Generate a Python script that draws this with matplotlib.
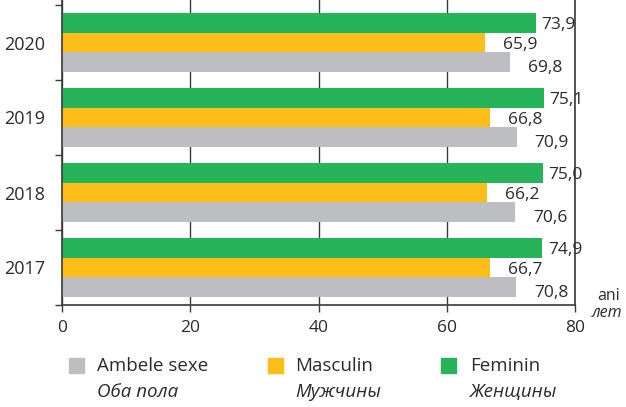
import numpy as np
import matplotlib.pyplot as plt
from matplotlib.patches import Rectangle

plt.rcParams['font.family'] = ['Open Sans', 'DejaVu Sans']

# 数据
years = ['2017', '2018', '2019', '2020']
ambele = [70.8, 70.6, 70.9, 69.8]
masculin = [66.7, 66.2, 66.8, 65.9]
feminin = [74.9, 75.0, 75.1, 73.9]

c_gray = '#bdbec2'
c_orange = '#fdbe1a'
c_green = '#27b35a'
c_axis = '#3a3a3a'
c_text = '#2b2b2b'

fig = plt.figure(figsize=(6.26, 4.07), dpi=100)
ax = fig.add_axes([62 / 626, 1 - 305 / 407, 513 / 626, 305 / 407])

y = np.arange(len(years))
h = 0.265
series = [(ambele, c_gray, -h, 13, -4), (masculin, c_orange, 0, 13, -2), (feminin, c_green, h, 4, -2)]
for vals, col, off, dx, dy in series:
    ax.barh(y + off, vals, height=h, color=col, zorder=2)
    for yi, v in zip(y, vals):
        ax.annotate(f'{v:.1f}'.replace('.', ','), (v, yi + off), xytext=(dx, dy),
                    textcoords='offset points', ha='left', va='center',
                    fontsize=12.5, color=c_text)

ax.set_xlim(0, 80)
ax.set_ylim(-0.5, 3.5 + 5 / 75)
ax.set_xticks([0, 20, 40, 60, 80])
ax.tick_params(axis='x', length=5, width=1, color=c_axis, labelsize=12.5,
               labelcolor=c_text, pad=6)
ax.set_yticks(y)
ax.set_yticklabels(years, fontsize=13, color=c_text)
ax.tick_params(axis='y', which='major', length=0, pad=12)
ax.set_yticks(np.arange(-0.5, 4, 1), minor=True)
ax.tick_params(axis='y', which='minor', length=5, width=1, color=c_axis)

ax.grid(axis='x', color=c_axis, linewidth=1)
ax.set_axisbelow(True)
ax.spines['top'].set_visible(False)
for s in ['left', 'right', 'bottom']:
    ax.spines[s].set_color(c_axis)
    ax.spines[s].set_linewidth(1.2)

fig.text(597 / 626, 1 - 296 / 407, 'ani', fontsize=11.5, color=c_text, va='center')
fig.text(592 / 626, 1 - 313 / 407, 'лет', fontsize=11.5, color=c_text, va='center',
         style='italic')

# 图例
legend = [(c_gray, 'Ambele sexe', 'Оба пола', 69, 97),
          (c_orange, 'Masculin', 'Мужчины', 268, 295),
          (c_green, 'Feminin', 'Женщины', 441, 470)]
for col, ro, ru, xs, xt in legend:
    fig.patches.append(Rectangle((xs / 626, 1 - 373 / 407), 15 / 626, 15 / 407,
                                 transform=fig.transFigure, color=col))
    fig.text(xt / 626, 1 - 366 / 407, ro, fontsize=13.5, color=c_text, va='center')
    fig.text(xt / 626, 1 - 392 / 407, ru, fontsize=13.5, color=c_text, va='center',
             style='italic')

fig.savefig('out.png', dpi=100)
